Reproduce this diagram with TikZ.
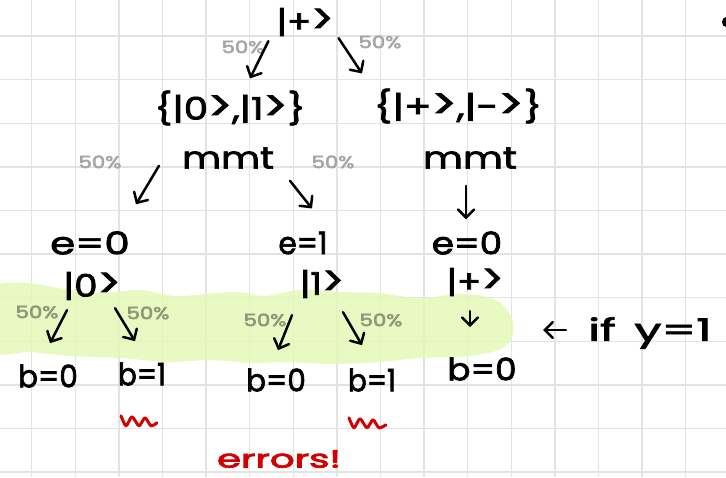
\documentclass[tikz,border=0pt]{standalone}
\usepackage{fontspec}
\usetikzlibrary{arrows.meta}
\newfontfamily\handfont{Poppins}[FakeBold=2.2]
\newfontfamily\handbold{Poppins}[FakeBold=3]
\definecolor{gridline}{HTML}{E3E3E3}
\definecolor{hilite}{HTML}{E6F8B8}
\definecolor{pctgrey}{HTML}{A6A6A6}
\definecolor{pctgreen}{HTML}{8E9878}
\definecolor{inkred}{HTML}{D20000}
\tikzset{
  hand/.style={font=\handfont\fontsize{31}{33}\selectfont, inner sep=0pt, anchor=center},
  pct/.style={font=\handbold\fontsize{17}{18}\selectfont, text=pctgrey, inner sep=0pt},
  pcthl/.style={pct, text=pctgreen},
  arr/.style={line width=2.5pt, line cap=round, line join=round,
    -{Straight Barb[length=8pt,width=16pt,line cap=round]}},
  squig/.style={inkred, line width=3pt, line cap=round, line join=round}
}
\newcommand{\wx}[2]{\scalebox{#1}[1]{#2}}
% a closing angle as tall as the bar
\newcommand{\rang}{\raisebox{-1pt}{\scalebox{1.15}[1.35]{>}}}
\newcommand{\pc}{\scalebox{1.25}[1]{50\%}}
\begin{document}
\begin{tikzpicture}[x=1pt,y=-1pt]
  \useasboundingbox (0,0) rectangle (726,477);
  \fill[white] (0,0) rectangle (726,477);
  % squared paper
  \foreach \i in {0,...,16} {
    \draw[gridline, line width=1.4pt] ({31.7+43.6*\i},0) -- ({31.7+43.6*\i},477);
  }
  \foreach \j in {0,...,10} {
    \draw[gridline, line width=1.4pt] (0,{36+43.6*\j}) -- (726,{36+43.6*\j});
  }
  % highlighter band over the last branching
  \fill[hilite, opacity=0.85] plot[smooth cycle, tension=0.6] coordinates {
    (-6,290) (25,283) (58,288) (100,293) (140,290) (175,296) (205,294)
    (238,292) (265,296) (300,290) (340,292) (380,293) (420,298) (460,294)
    (496,300) (513,322) (506,346) (470,356) (420,358) (380,362) (330,364)
    (290,362) (250,363) (210,360) (170,362) (120,358) (70,356) (30,352) (-6,350)};

  % states and measurements
  \node[hand] (plus) at (305,22) {\wx{1.15}{|+\rang}};
  \node[hand] (set1) at (230,108) {\wx{1.25}{\{|0\rang,|1\rang\}}};
  \node[hand] (set2) at (458,106) {\wx{1.3}{\{|+\rang,|-\rang\}}};
  \node[hand] (mmt1) at (228,158) {\wx{1.22}{mmt}};
  \node[hand] (mmt2) at (470,158) {\wx{1.25}{mmt}};
  \node[hand] (e1) at (90,243) {\wx{1.3}{e=0}};
  \node[hand] (e2) at (303,243) {\wx{0.95}{e=1}};
  \node[hand] (e3) at (467,243) {\wx{1.15}{e=0}};
  \node[hand] (k0) at (92,286) {\wx{1.2}{|0\rang}};
  \node[hand] (k1) at (322,284) {\wx{1.15}{|1\rang}};
  \node[hand] (kp) at (475,282) {\wx{1.15}{|+\rang}};
  \node[hand] (b1) at (48,376) {\wx{0.95}{b=0}};
  \node[hand] (b2) at (142,374) {\wx{0.9}{b=1}};
  \node[hand] (b3) at (276,380) {\wx{0.95}{b=0}};
  \node[hand] (b4) at (372,380) {\wx{0.9}{b=1}};
  \node[hand] (b5) at (482,369) {\wx{1.1}{b=0}};
  \node[hand, anchor=west] (cond) at (588,333) {\wx{1.55}{if\hspace{12pt}y=1}};

  % probabilities
  \node[pct] (p1) at (243,47) {\pc};
  \node[pct] (p2) at (380,42) {\pc};
  \node[pct] (p3) at (100,162) {\pc};
  \node[pct] (p4) at (333,162) {\pc};
  \node[pcthl] (p5) at (37,312) {\pc};
  \node[pcthl] (p6) at (148,313) {\pc};
  \node[pcthl] (p7) at (265,320) {\pc};
  \node[pcthl] (p8) at (381,320) {\pc};

  % branches
  \draw[arr] ([shift={(-8,5)}]plus.south west) -- ([shift={(20,-12)}]set1.north);
  \draw[arr] ([shift={(5,2)}]plus.south east) -- ([shift={(-96,-15)}]set2.north);
  \draw[arr] ([shift={(-23,-3)}]mmt1.south west) -- ([shift={(46,-27)}]e1.north);
  \draw[arr] ([shift={(62,12)}]mmt1.south) -- ([shift={(9,-23)}]e2.north);
  \draw[arr] ([shift={(-4,17)}]mmt2.south) -- ([shift={(-1,-12)}]e3.north);
  \draw[arr] ([shift={(-25,10)}]k0.south) -- ([shift={(2,-21)}]b1.north);
  \draw[arr] ([shift={(23,8)}]k0.south) -- ([shift={(-7,-21)}]b2.north);
  \draw[arr] ([shift={(-30,17)}]k1.south) -- ([shift={(2,-18)}]b3.north);
  \draw[arr] ([shift={(21,14)}]k1.south) -- ([shift={(-10,-23)}]b4.north);
  \draw[arr] ([shift={(-5,15)}]kp.south) -- ([shift={(-12,-30)}]b5.north);
  \coordinate (condtip) at ([shift={(-45,-3)}]cond.west);
  \draw[arr] ([shift={(-22,-3)}]cond.west) -- (condtip);

  % error marks
  \draw[squig] plot[smooth, tension=0.45] coordinates {
    ([shift={(-21,30)}]b2.south) ([shift={(-16,40)}]b2.south) ([shift={(-10,31)}]b2.south)
    ([shift={(-3,40)}]b2.south) ([shift={(3,32)}]b2.south) ([shift={(9,40)}]b2.south)
    ([shift={(15,37)}]b2.south)};
  \draw[squig] plot[smooth, tension=0.45] coordinates {
    ([shift={(-23,26)}]b4.south) ([shift={(-18,36)}]b4.south) ([shift={(-12,27)}]b4.south)
    ([shift={(-5,36)}]b4.south) ([shift={(1,28)}]b4.south) ([shift={(7,36)}]b4.south)
    ([shift={(14,33)}]b4.south)};
  \node[hand, text=inkred, font=\handbold\fontsize{25}{26}\selectfont] (err) at (279,459) {\wx{1.55}{errors!}};

  % ink spot at the page edge
  \fill (726,22) ellipse (4 and 5);
\end{tikzpicture}
\end{document}
